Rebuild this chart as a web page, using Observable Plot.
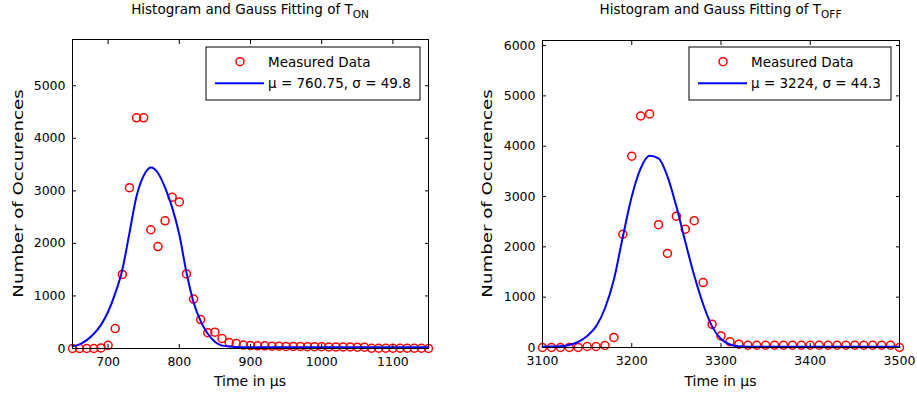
<!DOCTYPE html>
<html><head><meta charset="utf-8">
<script src="https://cdn.jsdelivr.net/npm/d3@7"></script>
<script src="https://cdn.jsdelivr.net/npm/@observablehq/plot@0.6"></script>
<style>
body{margin:0;background:#fff;}
#wrap{position:relative;width:917px;height:394px;background:#fff;}
#wrap svg{position:absolute;top:0;}
</style></head><body><div id="wrap"></div>
<script>
// ---- T_ON histogram (bin centres in µs) ----
const onTime = [650,660,670,680,690,700,710,720,730,740,750,760,770,780,790,800,810,820,830,840,850,860,870,880,890,900,910,920,930,940,950,960,970,980,990,1000,1010,1020,1030,1040,1050,1060,1070,1080,1090,1100,1110,1120,1130,1140,1150];
const onCounts = [0,0,0,0,10,60,380,1410,3060,4390,4390,2260,1940,2430,2880,2790,1420,940,550,300,310,190,115,95,65,55,50,50,45,45,40,40,40,35,35,35,30,30,30,30,25,25,5,5,5,5,5,5,5,5,0];
const onFit = [40,80,160,280,450,700,1050,1500,2200,2900,3290,3445,3340,3060,2680,2170,1450,880,520,280,130,55,40,30,25,25,25,25,25,25,25,25,25,25,25,25,25,25,25,25,25,25,25,25,25,25,25,25,25,25,25];
const onXTicks = [700,800,900,1000,1100];
const onYTicks = [0,1000,2000,3000,4000,5000];

// ---- T_OFF histogram ----
const offTime = [3100,3110,3120,3130,3140,3150,3160,3170,3180,3190,3200,3210,3220,3230,3240,3250,3260,3270,3280,3290,3300,3310,3320,3330,3340,3350,3360,3370,3380,3390,3400,3410,3420,3430,3440,3450,3460,3470,3480,3490,3500];
const offCounts = [0,0,0,0,0,20,20,40,200,2250,3800,4600,4640,2440,1870,2610,2350,2520,1290,460,230,115,65,45,45,45,45,45,45,45,45,45,45,45,45,45,45,45,45,45,0];
const offFit = [15,18,25,50,110,230,420,780,1350,2200,3000,3560,3810,3760,3400,2800,2100,1430,860,420,170,60,25,15,15,15,15,15,15,15,15,15,15,15,15,15,15,15,15,15,15];
const offXTicks = [3100,3200,3300,3400,3500];
const offYTicks = [0,1000,2000,3000,4000,5000,6000];

const FONT = "DejaVu Sans";
const fmt = d => String(d);

function panel(o) {
  const data = o.time.map((t, i) => ({t, n: o.counts[i], f: o.fit[i]}));
  const svgNode = Plot.plot({
    width: o.width, height: 394,
    marginLeft: o.ml, marginRight: o.mr, marginTop: o.mt, marginBottom: o.mb,
    style: {fontFamily: FONT, fontSize: "12.5px", color: "black", background: "white", overflow: "visible"},
    x: {domain: o.xDomain},
    y: {domain: o.yDomain},
    marks: [
      Plot.dot(data, {x: "t", y: "n", r: 4, stroke: "#ff0000", strokeWidth: 1.5, fill: "none"}),
      Plot.line(data, {x: "t", y: "f", stroke: "#0000ff", strokeWidth: 2, curve: "monotone-x"}),
      Plot.frame({stroke: "black", strokeWidth: 1}),
      Plot.axisX(o.xTicks, {anchor: "bottom", tickSize: 0, tickPadding: 8.5, tickFormat: fmt, label: null}),
      Plot.axisX(o.xTicks, {anchor: "bottom", tickSize: 4, dy: -4, tickFormat: () => "", label: null}),
      Plot.axisX(o.xTicks, {anchor: "top", tickSize: 4, dy: 4, tickFormat: () => "", label: null}),
      Plot.axisY(o.yTicks, {anchor: "left", tickSize: 0, tickPadding: 7, tickFormat: fmt, label: null}),
      Plot.axisY(o.yTicks, {anchor: "left", tickSize: 4, dx: 4, tickFormat: () => "", label: null}),
      Plot.axisY(o.yTicks, {anchor: "right", tickSize: 4, dx: -4, tickFormat: () => "", label: null})
    ]
  });
  svgNode.style.left = o.left + "px";
  document.getElementById("wrap").appendChild(svgNode);
  const svg = d3.select(svgNode);
  const fx0 = o.ml, fx1 = o.width - o.mr, fy0 = o.mt, fy1 = 394 - o.mb;
  const cx = (fx0 + fx1) / 2, cy = (fy0 + fy1) / 2;
  const txt = svg.append("g").attr("font-family", FONT).attr("fill", "black");
  // title with subscript
  const title = txt.append("text").attr("x", cx).attr("y", 14).attr("text-anchor", "middle").attr("font-size", 13.5);
  title.append("tspan").text("Histogram and Gauss Fitting of T");
  title.append("tspan").attr("font-size", 10.5).attr("dy", 4).text(o.sub);
  // axis labels
  txt.append("text").attr("x", cx).attr("y", 386).attr("text-anchor", "middle").attr("font-size", 14).text("Time in μs");
  txt.append("text").attr("transform", `translate(${o.ylabX},${cy}) rotate(-90) scale(1.3,1)`)
    .attr("text-anchor", "middle").attr("font-size", 14).text("Number of Occurences");
  // legend
  const bx = o.legendX, bw = o.legendW;
  const lg = svg.append("g").attr("font-family", FONT).attr("font-size", 13.5).attr("text-anchor", "start");
  lg.append("rect").attr("x", bx).attr("y", 47).attr("width", bw).attr("height", 53).attr("fill", "white").attr("stroke", "black");
  lg.append("circle").attr("cx", bx + 34).attr("cy", 61.7).attr("r", 4).attr("fill", "none").attr("stroke", "#ff0000").attr("stroke-width", 1.5);
  lg.append("text").attr("x", bx + 62).attr("y", 66.5).text("Measured Data");
  lg.append("line").attr("x1", bx + 9).attr("x2", bx + 58).attr("y1", 83.3).attr("y2", 83.3).attr("stroke", "#0000ff").attr("stroke-width", 2);
  lg.append("text").attr("x", bx + 62).attr("y", 88).text(o.legend);
}

panel({time: onTime, counts: onCounts, fit: onFit, xDomain: [650, 1150], yDomain: [0, 5880],
  xTicks: onXTicks, yTicks: onYTicks, left: 0, width: 458, ml: 72, mr: 30, mt: 39, mb: 46,
  sub: "ON", ylabX: 22.5, legendX: 206, legendW: 214, legend: "μ = 760.75, σ = 49.8"});
panel({time: offTime, counts: offCounts, fit: offFit, xDomain: [3100, 3500], yDomain: [0, 6100],
  xTicks: offXTicks, yTicks: offYTicks, left: 458, width: 459, ml: 84, mr: 18, mt: 40, mb: 47,
  sub: "OFF", ylabX: 34, legendX: 231, legendW: 202, legend: "μ = 3224, σ = 44.3"});
</script></body></html>
